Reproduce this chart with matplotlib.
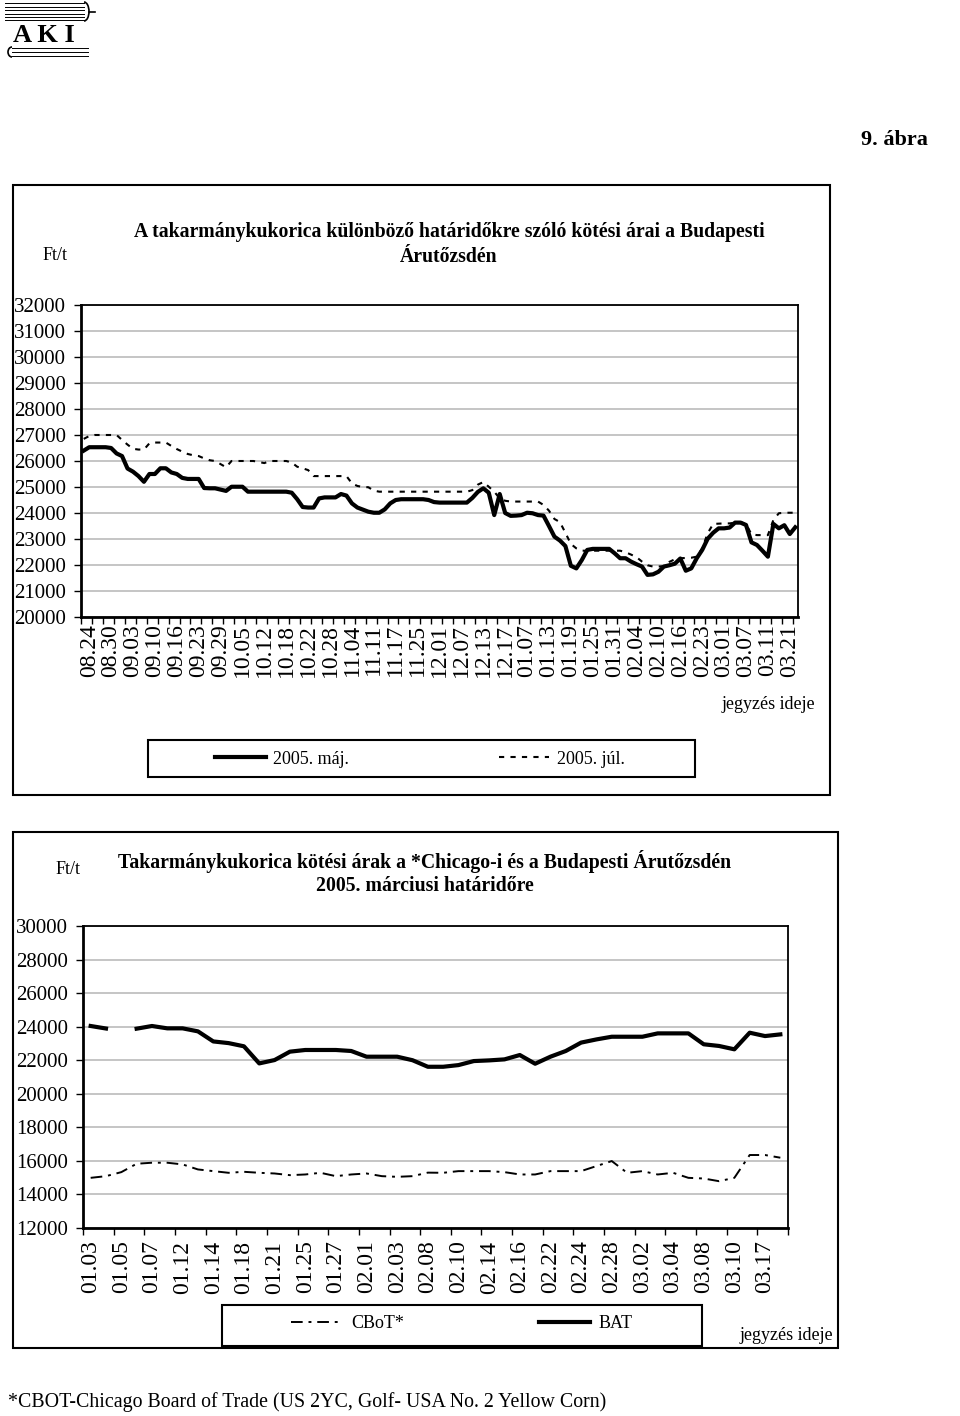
import numpy as np
import matplotlib.pyplot as plt
from matplotlib.patches import Rectangle, Arc

plt.rcParams['font.family'] = ['Liberation Serif', 'DejaVu Serif']

# upper chart: BAT quotes of the May and July 2005 contracts, one value per trading day
upper_labels = ['08.24', '08.30', '09.03', '09.10', '09.16', '09.23', '09.29', '10.05',
                '10.12', '10.18', '10.22', '10.28', '11.04', '11.11', '11.17', '11.25',
                '12.01', '12.07', '12.13', '12.17', '01.07', '01.13', '01.19', '01.25',
                '01.31', '02.04', '02.10', '02.16', '02.23', '03.01', '03.07', '03.11',
                '03.21']

may_2005 = [26400, 26530, 26530, 26530, 26530, 26500, 26290, 26190, 25710, 25590,
            25420, 25200, 25500, 25500, 25720, 25720, 25560, 25500, 25350, 25310,
            25310, 25310, 24960, 24950, 24950, 24900, 24850, 25010, 25010, 25010,
            24820, 24820, 24820, 24820, 24820, 24820, 24820, 24820, 24780, 24530,
            24230, 24210, 24210, 24560, 24600, 24600, 24600, 24730, 24670, 24370,
            24210, 24130, 24050, 24010, 24010, 24140, 24370, 24500, 24530, 24530,
            24530, 24530, 24530, 24500, 24420, 24400, 24400, 24400, 24400, 24400,
            24400, 24580, 24810, 24950, 24780, 23920, 24730, 24000, 23890, 23900,
            23920, 24010, 23990, 23920, 23900, 23500, 23090, 22940, 22730, 21970,
            21870, 22190, 22580, 22620, 22620, 22620, 22620, 22450, 22260, 22260,
            22130, 22030, 21940, 21620, 21640, 21740, 21940, 21990, 22050, 22250,
            21780, 21870, 22260, 22580, 23010, 23240, 23410, 23410, 23440, 23630,
            23630, 23540, 22870, 22770, 22550, 22320, 23580, 23410, 23530, 23190,
            23450]

jul_2005 = [26850, 26960, 27000, 27000, 27000, 27000, 27000, 26810, 26630, 26470,
            26440, 26440, 26680, 26710, 26710, 26710, 26580, 26460, 26360, 26270,
            26220, 26190, 26100, 26030, 26000, 25880, 25760, 26000, 26000, 26000,
            26000, 26000, 25960, 25920, 26000, 26000, 26000, 26000, 25940, 25780,
            25720, 25650, 25420, 25420, 25420, 25420, 25420, 25420, 25420, 25140,
            25040, 25000, 24990, 24860, 24820, 24820, 24820, 24820, 24820, 24820,
            24820, 24820, 24820, 24820, 24820, 24820, 24820, 24820, 24820, 24820,
            24820, 24880, 25090, 25190, 25010, 24820, 24560, 24470, 24440, 24440,
            24440, 24440, 24440, 24440, 24310, 24090, 23770, 23650, 23240, 22810,
            22640, 22550, 22550, 22550, 22550, 22550, 22550, 22550, 22550, 22490,
            22400, 22300, 22130, 21990, 21940, 21940, 21960, 22120, 22220, 22260,
            22270, 22280, 22320, 22640, 23220, 23580, 23590, 23600, 23600, 23630,
            23650, 23580, 23180, 23150, 23150, 23150, 23730, 23990, 24010, 24010,
            24010]

# lower chart: CBoT vs BAT, March 2005 contract, one value per trading day
lower_labels = ['01.03', '01.05', '01.07', '01.12', '01.14', '01.18', '01.21', '01.25',
                '01.27', '02.01', '02.03', '02.08', '02.10', '02.14', '02.16', '02.22',
                '02.24', '02.28', '03.02', '03.04', '03.08', '03.10', '03.17']

cbot = [14990, 15090, 15330, 15830, 15890, 15890, 15790, 15490, 15390, 15290,
        15350, 15290, 15250, 15150, 15190, 15290, 15090, 15190, 15250, 15090,
        15050, 15090, 15300, 15290, 15390, 15390, 15390, 15330, 15190, 15190,
        15390, 15390, 15390, 15690, 15990, 15290, 15390, 15190, 15290, 14990,
        14950, 14790, 14990, 16350, 16350, 16190]

bat = [24040, 23890, np.nan, 23880, 24040, 23900, 23900, 23720, 23120, 23020,
       22830, 21810, 22010, 22510, 22610, 22610, 22610, 22550, 22210, 22210,
       22210, 22000, 21610, 21610, 21710, 21950, 21990, 22050, 22310, 21790,
       22210, 22550, 23050, 23240, 23400, 23400, 23400, 23600, 23600, 23600,
       22950, 22850, 22650, 23640, 23440, 23540]

W, H = 960, 1416
fig = plt.figure(figsize=(W / 100, H / 100), dpi=100)


def fpos(px, py):
    # pixel position (from top-left) -> figure fraction
    return px / W, 1 - py / H


def frame(x0, y0, x1, y1, lw=1.5):
    fig.patches.append(Rectangle(fpos(x0, y1), (x1 - x0) / W, (y1 - y0) / H,
                                 transform=fig.transFigure, fill=False,
                                 ec='black', lw=lw))


def style_axes(ax, ncat, ylim, ystep, label_pos, labels, tick_pos, label_pad):
    ax.set_xlim(-0.5, ncat - 0.5)
    ax.set_ylim(*ylim)
    ax.set_yticks(np.arange(ylim[0], ylim[1] + 1, ystep))
    ax.set_xticks(label_pos)
    ax.set_xticklabels(labels, rotation=90, fontsize=17)
    ax.set_xticks(tick_pos, minor=True)
    ax.tick_params(axis='x', which='major', length=0, pad=label_pad)
    ax.tick_params(axis='x', which='minor', length=5, width=1, direction='out')
    ax.tick_params(axis='y', length=5, width=1, labelsize=15, pad=6)
    ax.yaxis.grid(True, color='#c0c0c0', lw=1.3)
    ax.set_axisbelow(True)
    for side in ['top', 'right']:
        ax.spines[side].set_linewidth(1.3)
    for side in ['left', 'bottom']:
        ax.spines[side].set_linewidth(2)


# logo
lax = fig.add_axes([0, 1 - 60 / H, 100 / W, 60 / H])
lax.set_xlim(0, 100)
lax.set_ylim(60, 0)
lax.axis('off')
for y in [3, 6.5, 10, 13.5, 17, 20]:
    lax.plot([5, 84], [y, y], color='black', lw=0.7)
lax.add_patch(Arc((84, 11.5), 10, 19, theta1=-90, theta2=90, color='black', lw=1.2))
lax.plot([89, 95], [11.5, 11.5], color='black', lw=1.2)
for y in [48, 52, 56]:
    lax.plot([12, 88], [y, y], color='black', lw=0.7)
lax.add_patch(Arc((12, 52), 8, 10, theta1=90, theta2=270, color='black', lw=1.2))
lax.text(44, 35, 'A K I', ha='center', va='center', fontsize=19, fontweight='bold')

fig.text(*fpos(928, 140), '9. ábra', ha='right', va='center', fontsize=16,
         fontweight='bold')

# upper chart
frame(13, 185, 830, 795)
fig.text(*fpos(449, 232), 'A takarmánykukorica különböző határidőkre szóló kötési árai a Budapesti',
         ha='center', va='center', fontsize=14.2, fontweight='bold')
fig.text(*fpos(449, 257), 'Árutőzsdén', ha='center', va='center', fontsize=14.2,
         fontweight='bold')
fig.text(*fpos(55, 255), 'Ft/t', ha='center', va='center', fontsize=13)

ax1 = fig.add_axes([81 / W, 1 - 617 / H, 717 / W, 312 / H])
n1 = len(may_2005)
x1 = np.arange(n1)
l_may, = ax1.plot(x1, may_2005, color='black', lw=3, label='2005. máj.')
l_jul, = ax1.plot(x1, jul_2005, color='black', lw=1.5, dashes=(2.5, 3),
                  label='2005. júl.')
style_axes(ax1, n1, (20000, 32000), 1000,
           np.arange(len(upper_labels)) * 4 + 1, upper_labels,
           np.arange(-0.5, n1, 2), 5)

fig.text(*fpos(815, 704), 'jegyzés ideje', ha='right', va='center', fontsize=13)
frame(148, 740, 695, 777)
ax1.legend(handles=[l_may, l_jul], loc='center', bbox_to_anchor=fpos(420, 759),
           bbox_transform=fig.transFigure, ncol=2, frameon=False, fontsize=13,
           handlelength=2.8, handletextpad=0.4, columnspacing=8.3)

# lower chart
frame(13, 832, 838, 1348)
fig.text(*fpos(425, 861), 'Takarmánykukorica kötési árak a *Chicago-i és a Budapesti Árutőzsdén',
         ha='center', va='center', fontsize=14.2, fontweight='bold')
fig.text(*fpos(425, 886), '2005. márciusi határidőre', ha='center', va='center',
         fontsize=14.2, fontweight='bold')
fig.text(*fpos(68, 870), 'Ft/t', ha='center', va='center', fontsize=13)

ax2 = fig.add_axes([83 / W, 1 - 1228 / H, 705 / W, 302 / H])
n2 = len(bat)
x2 = np.arange(n2)
l_cbot, = ax2.plot(x2, cbot, color='black', lw=1.4, dashes=(6, 3, 1.5, 3),
                   label='CBoT*')
l_bat, = ax2.plot(x2, bat, color='black', lw=3, label='BAT')
style_axes(ax2, n2, (12000, 30000), 2000,
           np.arange(len(lower_labels)) * 2, lower_labels,
           np.arange(-0.5, n2, 2), 9)

frame(222, 1305, 702, 1346)
ax2.legend(handles=[l_cbot, l_bat], loc='center', bbox_to_anchor=fpos(462, 1324),
           bbox_transform=fig.transFigure, ncol=2, frameon=False, fontsize=13,
           handlelength=2.8, handletextpad=0.5, columnspacing=7.5)
fig.text(*fpos(833, 1336), 'jegyzés ideje', ha='right', va='center', fontsize=13)

fig.text(*fpos(8, 1402), '*CBOT-Chicago Board of Trade (US 2YC, Golf- USA No. 2 Yellow Corn)',
         ha='left', va='center', fontsize=14.3)

fig.savefig('out.png', dpi=100)
